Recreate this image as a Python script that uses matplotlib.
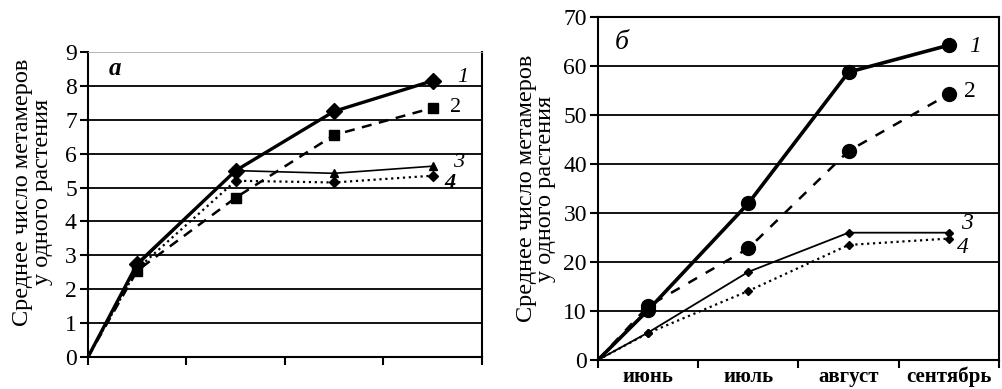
import matplotlib.pyplot as plt

plt.rcParams['font.family'] = ['Liberation Serif', 'DejaVu Serif']

# x positions: start point plus centres of the four periods
xs = [0, 0.5, 1.5, 2.5, 3.5]
months = ['июнь', 'июль', 'август', 'сентябрь']

# panel a
a1 = [0, 2.75, 5.5, 7.25, 8.15]
a2 = [0, 2.55, 4.7, 6.55, 7.35]
a3 = [0, 2.7, 5.5, 5.42, 5.63]
a4 = [0, 2.6, 5.2, 5.15, 5.35]

# panel b
b1 = [0, 10.2, 32, 58.8, 64.3]
b2 = [0, 11, 22.8, 42.7, 54.3]
b3 = [0, 5.6, 18, 26, 26]
b4 = [0, 5.5, 14.1, 23.5, 24.8]

ylab = 'Среднее число метамеров\nу одного растения'
mk = [1, 2, 3, 4]  # no marker at origin

fig = plt.figure(figsize=(10.02, 3.89), dpi=100)
ax1 = fig.add_axes([0.0878, 0.0823, 0.393, 0.784])
ax2 = fig.add_axes([0.5968, 0.0746, 0.4002, 0.881])


def style(ax, ymax, ystep, fs):
    ax.set_xlim(0, 4)
    ax.set_ylim(0, ymax)
    ax.set_xticks([0, 1, 2, 3, 4])
    ax.set_xticklabels([])
    ax.set_yticks(range(0, ymax + 1, ystep))
    ax.tick_params(axis='both', direction='out', length=6, width=1.5,
                   labelsize=fs, colors='black', pad=2)
    for y in range(ystep, ymax, ystep):
        ax.axhline(y, color='black', lw=1.3, zorder=1)
    for s in ax.spines.values():
        s.set_linewidth(1.5)
    ax.set_ylabel(ylab, fontsize=17.5, linespacing=0.9, labelpad=5)


style(ax1, 9, 1, 17)
ax1.spines['top'].set_linewidth(0.6)
ax1.spines['top'].set_color('#aaaaaa')
ax1.yaxis.set_label_coords(-0.09, 0.54)

ax1.plot(xs, a1, '-', color='black', lw=2.4, marker='D', ms=8, markevery=mk, zorder=5)
ax1.plot(xs, a2, '--', color='black', lw=1.8, dashes=(4, 3), marker='s', ms=7, markevery=mk, zorder=4)
ax1.plot(xs, a3, '-', color='black', lw=1.2, marker='^', ms=6, markevery=mk, zorder=4)
ax1.plot(xs, a4, ':', color='black', lw=1.6, marker='D', ms=5, markevery=mk, zorder=4)

ax1.text(0.27, 8.5, 'а', fontsize=18, style='italic', fontweight='bold', va='center', ha='center')
ax1.text(3.81, 8.25, '1', fontsize=16, style='italic', va='center', ha='center')
ax1.text(3.73, 7.35, '2', fontsize=16, va='center', ha='center')
ax1.text(3.76, 5.75, '3', fontsize=16, style='italic', va='center', ha='center')
ax1.text(3.68, 5.12, '4', fontsize=16, style='italic', fontweight='bold', va='center', ha='center')

style(ax2, 70, 10, 17)
ax2.set_xticks([0.5, 1.5, 2.5, 3.5], minor=True)
ax2.set_xticklabels(months, minor=True, fontsize=15, fontweight='bold')
ax2.tick_params(axis='x', which='minor', length=0, pad=5)

ax2.plot(xs, b1, '-', color='black', lw=2.6, marker='o', ms=10, markevery=mk, zorder=5)
ax2.plot(xs, b2, '--', color='black', lw=1.8, dashes=(4, 4), marker='o', ms=10, markevery=mk, zorder=4)
ax2.plot(xs, b3, '-', color='black', lw=1.3, marker='D', ms=4, markevery=mk, zorder=4)
ax2.plot(xs, b4, ':', color='black', lw=1.6, marker='D', ms=4, markevery=mk, zorder=4)

ax2.text(0.24, 64.9, 'б', fontsize=20, style='italic', va='center', ha='center')
ax2.text(3.76, 64.0, '1', fontsize=17, style='italic', va='center', ha='center')
ax2.text(3.71, 54.8, '2', fontsize=17, va='center', ha='center')
ax2.text(3.68, 27.9, '3', fontsize=17, style='italic', va='center', ha='center')
ax2.text(3.64, 22.9, '4', fontsize=17, style='italic', va='center', ha='center')

fig.savefig('out.png', dpi=100)
